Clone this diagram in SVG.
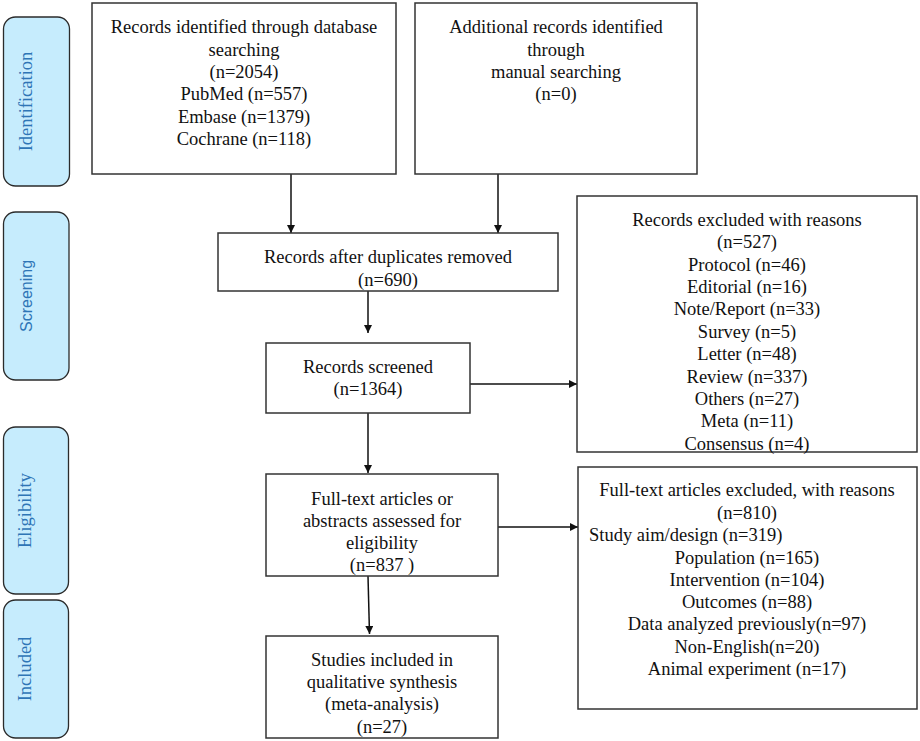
<svg xmlns="http://www.w3.org/2000/svg" width="920" height="741" viewBox="0 0 920 741">
<style>
.tab{fill:#c6ecfd;stroke:#2b2b2b;stroke-width:1.3}
.tt{font-family:"Liberation Serif",serif;font-size:18.5px;fill:#2e75b6;text-anchor:middle}
.ts{font-family:"Liberation Sans",sans-serif;font-size:16px;fill:#2e75b6;text-anchor:middle}
.box{fill:#fff;stroke:#333;stroke-width:1.5}
.t{font-family:"Liberation Serif",serif;font-size:18.5px;fill:#111;text-anchor:middle}
.c{stroke:#111;stroke-width:1.5;fill:none;marker-end:url(#ah)}
</style>
<defs>
<marker id="ah" viewBox="0 0 10 10" refX="10" refY="5" markerWidth="8" markerHeight="8" markerUnits="userSpaceOnUse" orient="auto">
<path d="M0,0 L10,5 L0,10 Z" fill="#111"/>
</marker>
</defs>
<rect width="920" height="741" fill="#fff"/>
<g id="tab-identification"><rect class="tab" x="3.5" y="17" width="66" height="169" rx="12"/><text class="tt" transform="translate(32,101.5) rotate(-90)">Identification</text></g>
<g id="tab-screening"><rect class="tab" x="3.5" y="212" width="65.5" height="168" rx="12"/><text class="ts" transform="translate(32,296) rotate(-90)">Screening</text></g>
<g id="tab-eligibility"><rect class="tab" x="3.5" y="427" width="65" height="167" rx="12"/><text class="tt" transform="translate(31,510.5) rotate(-90)">Eligibility</text></g>
<g id="tab-included"><rect class="tab" x="3.5" y="600" width="65" height="138" rx="12"/><text class="tt" transform="translate(31,669) rotate(-90)">Included</text></g>

<g id="connectors">
<line class="c" x1="291" y1="174" x2="291" y2="233"/>
<line class="c" x1="498" y1="174" x2="498" y2="233"/>
<line class="c" x1="368" y1="291" x2="368" y2="333"/>
<line class="c" x1="368" y1="413" x2="368" y2="473"/>
<line class="c" x1="368" y1="576" x2="369.5" y2="634"/>
<line class="c" x1="470" y1="384" x2="577" y2="384"/>
<line class="c" x1="498" y1="527" x2="578" y2="527"/>
</g>

<g id="box-database"><rect class="box" x="92" y="3" width="304" height="171"/>
<text class="t" x="244" y="33">Records identified through database</text>
<text class="t" x="244" y="55.5">searching</text>
<text class="t" x="244" y="78">(n=2054)</text>
<text class="t" x="244" y="100">PubMed (n=557)</text>
<text class="t" x="244" y="122.5">Embase (n=1379)</text>
<text class="t" x="244" y="144.5">Cochrane (n=118)</text></g>

<g id="box-manual"><rect class="box" x="415" y="3" width="282" height="171"/>
<text class="t" x="556" y="33">Additional records identified</text>
<text class="t" x="556" y="55.5">through</text>
<text class="t" x="556" y="78">manual searching</text>
<text class="t" x="556" y="100">(n=0)</text></g>

<g id="box-duplicates"><rect class="box" x="218" y="233" width="340" height="58"/>
<text class="t" x="388" y="263">Records after duplicates removed</text>
<text class="t" x="388" y="285.5">(n=690)</text></g>

<g id="box-screened"><rect class="box" x="266" y="343" width="204" height="70"/>
<text class="t" x="368" y="372.5">Records screened</text>
<text class="t" x="368" y="395">(n=1364)</text></g>

<g id="box-fulltext"><rect class="box" x="266" y="474" width="232" height="102"/>
<text class="t" x="382" y="504.5">Full-text articles or</text>
<text class="t" x="382" y="527">abstracts assessed for</text>
<text class="t" x="382" y="549">eligibility</text>
<text class="t" x="382" y="571">(n=837 )</text></g>

<g id="box-included"><rect class="box" x="266" y="636" width="232" height="102"/>
<text class="t" x="382" y="665.5">Studies included in</text>
<text class="t" x="382" y="688">qualitative synthesis</text>
<text class="t" x="382" y="710">(meta-analysis)</text>
<text class="t" x="382" y="733">(n=27)</text></g>

<g id="box-excluded-records"><rect class="box" x="577" y="196" width="340" height="256"/>
<text class="t" x="747" y="225.5">Records excluded with reasons</text>
<text class="t" x="747" y="248">(n=527)</text>
<text class="t" x="747" y="270.5">Protocol (n=46)</text>
<text class="t" x="747" y="293">Editorial (n=16)</text>
<text class="t" x="747" y="315">Note/Report (n=33)</text>
<text class="t" x="747" y="337.5">Survey (n=5)</text>
<text class="t" x="747" y="360">Letter (n=48)</text>
<text class="t" x="747" y="382.5">Review (n=337)</text>
<text class="t" x="747" y="404.5">Others (n=27)</text>
<text class="t" x="747" y="427">Meta (n=11)</text>
<text class="t" x="747" y="449.5">Consensus (n=4)</text></g>

<g id="box-excluded-fulltext"><rect class="box" x="578" y="467" width="339" height="242"/>
<text class="t" x="747" y="496">Full-text articles excluded, with reasons</text>
<text class="t" x="747" y="518.5">(n=810)</text>
<text class="t" x="589" y="541" style="text-anchor:start">Study aim/design (n=319)</text>
<text class="t" x="747" y="563.5">Population (n=165)</text>
<text class="t" x="747" y="585.5">Intervention (n=104)</text>
<text class="t" x="747" y="608">Outcomes (n=88)</text>
<text class="t" x="747" y="630">Data analyzed previously(n=97)</text>
<text class="t" x="747" y="653">Non-English(n=20)</text>
<text class="t" x="747" y="675">Animal experiment (n=17)</text></g>
</svg>
